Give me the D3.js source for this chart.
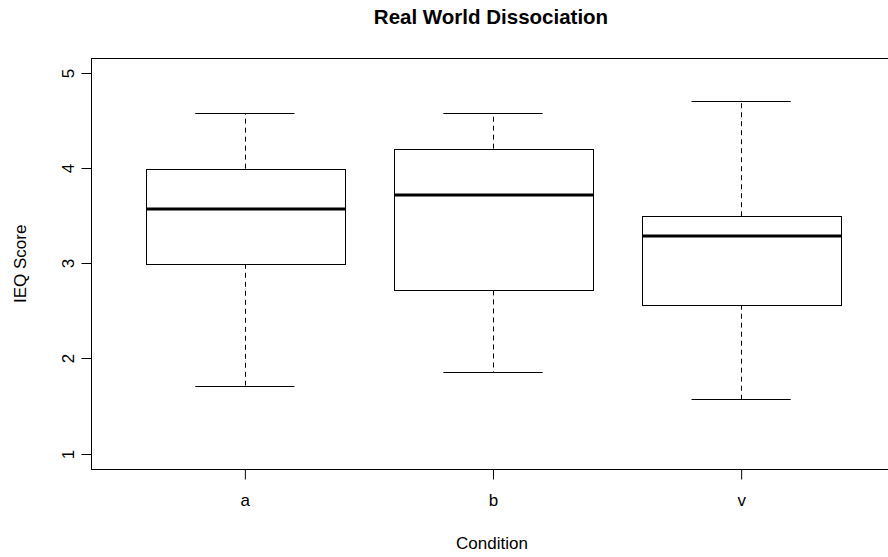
<!DOCTYPE html>
<html>
<head>
<meta charset="utf-8">
<script src="https://cdn.jsdelivr.net/npm/d3@7"></script>
<style>
  html, body { margin: 0; padding: 0; background: #fff; }
  svg { display: block; font-family: "Liberation Sans", Arial, sans-serif; }
</style>
</head>
<body>
<svg id="chart" width="888" height="557"></svg>
<script>
// Box-plot summaries per condition
const categories = ["a", "b", "v"];
const whiskerLow  = [1.72, 1.86, 1.58];
const q1          = [3.00, 2.72, 2.57];
const median      = [3.58, 3.72, 3.29];
const q3          = [4.00, 4.21, 3.50];
const whiskerHigh = [4.58, 4.58, 4.71];
const yTicks = [1, 2, 3, 4, 5];

const title = "Real World Dissociation";
const xTitle = "Condition";
const yTitle = "IEQ Score";

const svg = d3.select("#chart");

const plot = { left: 91, right: 895, top: 58.3, bottom: 469.3 };

const x = d3.scalePoint()
  .domain(categories)
  .range([plot.left, plot.right])
  .padding(0.62);

const y = d3.scaleLinear()
  .domain([0.84, 5.16])
  .range([plot.bottom, plot.top]);

const boxW = x.step() * 0.8;
const capW = boxW / 2;

const data = categories.map((c, i) => ({
  cat: c, lo: whiskerLow[i], q1: q1[i], med: median[i], q3: q3[i], hi: whiskerHigh[i]
}));

const g = svg.append("g");

// Whiskers (dashed stems)
g.selectAll(".stem-hi").data(data).join("line")
  .attr("x1", d => Math.round(x(d.cat)) + 0.5).attr("x2", d => Math.round(x(d.cat)) + 0.5)
  .attr("y1", d => y(d.q3)).attr("y2", d => y(d.hi))
  .attr("stroke", "#000").attr("stroke-width", 1).attr("stroke-dasharray", "5,4");
g.selectAll(".stem-lo").data(data).join("line")
  .attr("x1", d => Math.round(x(d.cat)) + 0.5).attr("x2", d => Math.round(x(d.cat)) + 0.5)
  .attr("y1", d => y(d.q1)).attr("y2", d => y(d.lo))
  .attr("stroke", "#000").attr("stroke-width", 1).attr("stroke-dasharray", "5,4");

// Whisker caps
["lo", "hi"].forEach(k => {
  g.selectAll(".cap-" + k).data(data).join("line")
    .attr("x1", d => x(d.cat) - capW / 2).attr("x2", d => x(d.cat) + capW / 2)
    .attr("y1", d => Math.round(y(d[k])) + 0.5).attr("y2", d => Math.round(y(d[k])) + 0.5)
    .attr("stroke", "#000").attr("stroke-width", 1);
});

// Boxes
g.selectAll(".box").data(data).join("rect")
  .attr("x", d => Math.round(x(d.cat) - boxW / 2) + 0.5)
  .attr("width", Math.round(boxW))
  .attr("y", d => Math.round(y(d.q3)) + 0.5)
  .attr("height", d => Math.round(y(d.q1)) - Math.round(y(d.q3)))
  .attr("fill", "#fff").attr("stroke", "#000").attr("stroke-width", 1);

// Medians
g.selectAll(".med").data(data).join("line")
  .attr("x1", d => Math.round(x(d.cat) - boxW / 2) + 0.5)
  .attr("x2", d => Math.round(x(d.cat) - boxW / 2) + 0.5 + Math.round(boxW))
  .attr("y1", d => Math.round(y(d.med)))
  .attr("y2", d => Math.round(y(d.med)))
  .attr("stroke", "#000").attr("stroke-width", 3);

// Frame
svg.append("rect")
  .attr("x", plot.left + 0.5).attr("y", Math.round(plot.top) + 0.5)
  .attr("width", plot.right - plot.left).attr("height", Math.round(plot.bottom) - Math.round(plot.top))
  .attr("fill", "none").attr("stroke", "#000").attr("stroke-width", 1);

// Y axis
const yAxis = d3.axisLeft(y).tickValues(yTicks).tickSize(10).tickPadding(8).tickFormat(d3.format("d"));
const yg = svg.append("g").attr("transform", `translate(${plot.left + 0.5},0)`).call(yAxis);
yg.select(".domain").remove();
yg.selectAll(".tick line").attr("stroke", "#000");
yg.selectAll(".tick text")
  .attr("transform", "rotate(-90)")
  .attr("x", 0).attr("y", -23).attr("dy", "0.35em")
  .attr("text-anchor", "middle")
  .attr("font-size", 17).attr("fill", "#000")
  .style("font-family", "'Liberation Sans', Arial, sans-serif");
yg.selectAll(".tick").each(function() {
  const t = d3.select(this);
  const tr = t.attr("transform");
  const ty = +tr.match(/,([\d.\-]+)\)/)[1];
  t.attr("transform", `translate(0,${Math.round(ty) - 0.5})`);
});

// X axis
const xAxis = d3.axisBottom(x).tickSize(10).tickPadding(8);
const xg = svg.append("g").attr("transform", `translate(0,${Math.round(plot.bottom) + 0.5})`).call(xAxis);
xg.select(".domain").remove();
xg.selectAll(".tick line").attr("stroke", "#000");
xg.selectAll(".tick text")
  .attr("y", 31).attr("dy", "0.35em")
  .attr("font-size", 17).attr("fill", "#000")
  .style("font-family", "'Liberation Sans', Arial, sans-serif");

// Titles
svg.append("text")
  .attr("x", (plot.left + plot.right) / 2 - 2).attr("y", 24)
  .attr("text-anchor", "middle")
  .attr("font-size", 20.5).attr("font-weight", "bold").attr("fill", "#000")
  .text(title);

svg.append("text")
  .attr("x", (plot.left + plot.right) / 2 - 1).attr("y", 549)
  .attr("text-anchor", "middle")
  .attr("font-size", 17).attr("fill", "#000")
  .text(xTitle);

svg.append("text")
  .attr("transform", `translate(26,${(plot.top + plot.bottom) / 2}) rotate(-90)`)
  .attr("text-anchor", "middle")
  .attr("font-size", 17).attr("fill", "#000")
  .text(yTitle);
</script>
</body>
</html>
